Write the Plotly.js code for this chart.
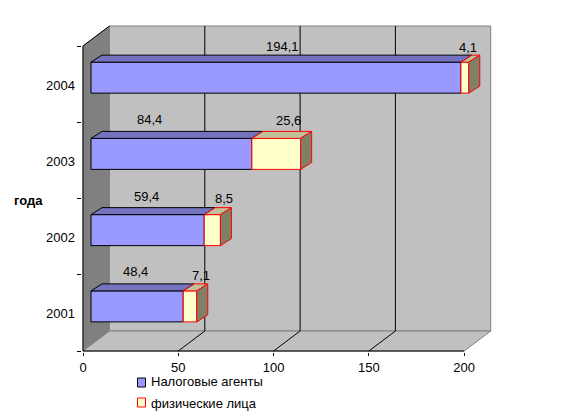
<!DOCTYPE html>
<html><head><meta charset="utf-8">
<script src="https://cdn.plot.ly/plotly-3.0.1.min.js"></script>
<style>html,body{margin:0;padding:0;background:#fff}</style></head>
<body><div id="chart" style="width:584px;height:416px"></div>
<script>
const years = ['2001','2002','2003','2004'];
const agents = [48.4, 59.4, 84.4, 194.1];
const persons = [7.1, 8.5, 25.6, 4.1];
const agentLabels = ['48,4','59,4','84,4','194,1'];
const personLabels = ['7,1','8,5','25,6','4,1'];
const seriesNames = ['Налоговые агенты','физические лица'];
const xTicks = [0,50,100,150,200];
const yAxisName = 'года';

// label nudges (px) from the automatic position
const agentNudgeX = [-2,-1,-22,7], agentNudgeY = [3,2,2,-1];
const personNudgeX = [5,6,7,-2], personNudgeY = [-1,0,1,-2];

const colors = {front:'#9999ff',top:'#7373bf',yFront:'#ffffcc',yTop:'#bfbf99',ySide:'#808066',wall:'#c0c0c0',side:'#808080'};
const sx = 1.906, sy = 76.25;             // px per data unit
const wallDx = 26.5/sx, wallDy = 20/sy;   // chart depth
const barDx = 11/sx, barDy = 7/sy;        // bar depth
const startX = 8/sx, liftY = 6.5/sy;      // bar front offset from the front plane
const barH = 31/sy;
const L = 82, T = 25, W = 410, H = 327;
const xMax = 200, yMax = 4;
const paperX = p => (p-L)/W, paperY = p => (T+H-p)/H;

const poly = (pts, fill, line, width, layer) => ({
  type:'path', xref:'x', yref:'y', layer: layer||'below',
  path: 'M' + pts.map(p=>p[0]+','+p[1]).join('L') + 'Z',
  fillcolor: fill, line:{color:line||fill, width: width===undefined?1:width}
});
const seg = (a,b,color,layer) => ({type:'line',xref:'x',yref:'y',layer:layer||'below',
  x0:a[0],y0:a[1],x1:b[0],y1:b[1],line:{color:color,width:1}});

const shapes = [
  poly([[wallDx,wallDy],[xMax+wallDx,wallDy],[xMax+wallDx,yMax+wallDy],[wallDx,yMax+wallDy]], colors.wall, '#808080'),
  poly([[0,0],[wallDx,wallDy],[wallDx,yMax+wallDy],[0,yMax]], colors.side, colors.side),
  poly([[0,0],[xMax,0],[xMax+wallDx,wallDy],[wallDx,wallDy]], colors.wall, '#808080'),
];
xTicks.slice(1,-1).forEach(t=>{
  shapes.push(seg([t+wallDx,wallDy],[t+wallDx,yMax+wallDy],'#000'));
  shapes.push(seg([t,0],[t+wallDx,wallDy],'#000'));
});
shapes.push(seg([0,yMax],[wallDx,yMax+wallDy],'#000'));
shapes.push(seg([0,0],[0,yMax],'#000'));
shapes.push(seg([0,0],[xMax,0],'#000'));

// legend keys
[[colors.front,'#000',378,387],[colors.yFront,'#ff0000',398,407]].forEach(k=>{
  shapes.push({type:'rect',xref:'paper',yref:'paper',x0:paperX(137.5),x1:paperX(145.5),
    y0:paperY(k[3]),y1:paperY(k[2]),fillcolor:k[0],line:{color:k[1],width:1}});
});

const noHover = {hoverinfo:'skip',showlegend:false};
const ys = years.map((_,i)=>i+0.5+liftY);
const traces = [];
const face = (pts, fill, line) => traces.push(Object.assign({type:'scatter',mode:'lines',
  x:pts.map(p=>p[0]).concat(pts[0][0]), y:pts.map(p=>p[1]).concat(pts[0][1]),
  fill:'toself',fillcolor:fill,line:{color:line,width:1}},noHover));

years.forEach((_,i)=>{
  const y0 = ys[i]-barH/2, y1 = ys[i]+barH/2;
  const a0 = startX, a1 = startX+agents[i], b1 = a1+persons[i];
  face([[a0,y1],[a1,y1],[a1+barDx,y1+barDy],[a0+barDx,y1+barDy]], colors.top, '#000');
  face([[a1,y1],[b1,y1],[b1+barDx,y1+barDy],[a1+barDx,y1+barDy]], colors.yTop, '#ff0000');
  face([[b1,y0],[b1+barDx,y0+barDy],[b1+barDx,y1+barDy],[b1,y1]], colors.ySide, '#ff0000');
});
traces.push(Object.assign({type:'bar',orientation:'h',y:ys,x:agents,base:agents.map(()=>startX),width:barH,
  marker:{color:colors.front,line:{color:'#000',width:1}},name:seriesNames[0]},noHover));
traces.push(Object.assign({type:'bar',orientation:'h',y:ys,x:persons,base:agents.map(v=>startX+v),width:barH,
  marker:{color:colors.yFront,line:{color:'#ff0000',width:1}},name:seriesNames[1]},noHover));
// boundary ticks on the category axis
traces.push(Object.assign({type:'scatter',mode:'none',x:[0],y:[0],yaxis:'y2'},noHover));

const font = {family:'"Liberation Sans", Arial, sans-serif',size:13,color:'#000'};
const annotations = [];
const note = (x,y,text,nx,ny) => annotations.push({xref:'x',yref:'y',x:x,y:y,text:text,showarrow:false,
  xanchor:'center',yanchor:'bottom',xshift:nx,yshift:ny,font:font});
years.forEach((_,i)=>{
  const top = ys[i]+barH/2+barDy;
  note(startX+agents[i]/2, top, agentLabels[i], agentNudgeX[i], agentNudgeY[i]);
  note(startX+agents[i]+persons[i]/2+barDx/2, top, personLabels[i], personNudgeX[i], personNudgeY[i]);
});
annotations.push({xref:'paper',yref:'paper',x:paperX(13),y:paperY(200),xanchor:'left',yanchor:'middle',
  text:'<b>'+yAxisName+'</b>',showarrow:false,font:font,xshift:-1});
seriesNames.forEach((n,i)=>annotations.push({xref:'paper',yref:'paper',x:paperX(150),y:paperY(382+21*i),
  xanchor:'left',yanchor:'middle',text:n,showarrow:false,font:font,xshift:-1}));

Plotly.newPlot('chart',traces,{
  width:584,height:416,paper_bgcolor:'#fff',plot_bgcolor:'rgba(0,0,0,0)',
  margin:{l:L,t:T,r:584-L-W,b:416-T-H},showlegend:false,barmode:'overlay',
  font:font,shapes:shapes,annotations:annotations,
  xaxis:{range:[-1/sx,(W-1)/sx],tickmode:'array',tickvals:xTicks,ticktext:xTicks.map(String),
    showgrid:false,zeroline:false,showline:false,ticks:'outside',ticklen:3,tickcolor:'#000',fixedrange:true,tickfont:font},
  yaxis:{range:[-1/sy,(H-1)/sy],tickmode:'array',tickvals:years.map((_,i)=>i+0.5-1/sy),ticktext:years,
    showgrid:false,zeroline:false,showline:false,ticks:'',ticklabelstandoff:6,fixedrange:true,tickfont:font},
  yaxis2:{overlaying:'y',side:'left',range:[-1/sy,(H-1)/sy],tickmode:'array',tickvals:[0,1,2,3,4],ticktext:['','','','',''],
    showgrid:false,zeroline:false,showline:false,ticks:'outside',ticklen:4,tickcolor:'#000',fixedrange:true}
},{displayModeBar:false,staticPlot:true});
</script></body></html>
